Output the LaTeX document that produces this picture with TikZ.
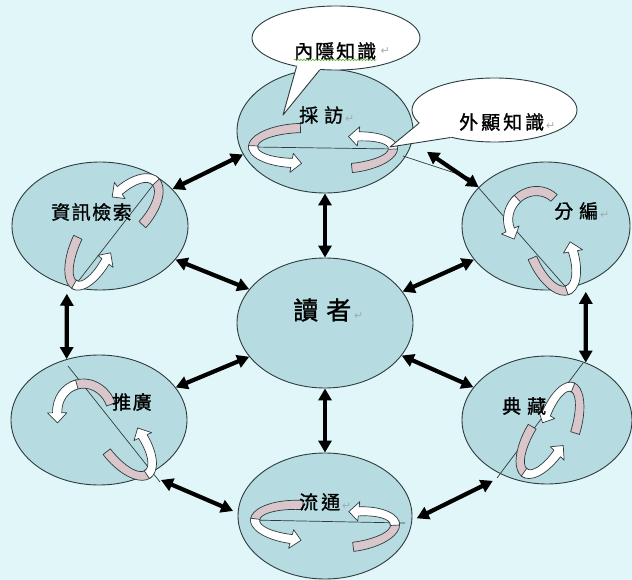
\documentclass[tikz,border=0pt]{standalone}
\usepackage{fontspec}
\newfontfamily\cjk[FakeBold=1.2]{Noto Sans CJK TC}
\newfontfamily\dejavu{DejaVu Sans}
\usetikzlibrary{arrows.meta,shapes.geometric,calc,decorations.pathmorphing}
\definecolor{bgc}{HTML}{E0F6F8}
\definecolor{ellc}{HTML}{B6DCE1}
\definecolor{pinkc}{HTML}{D8C6CB}
\definecolor{edgec}{HTML}{2F3B3D}
\definecolor{retc}{HTML}{A4ACAE}
\definecolor{wavyc}{HTML}{5FAE3A}
\newcommand{\retmark}{{\dejavu\fontsize{11}{11}\selectfont\textcolor{retc}{↵}}}
\tikzset{
  ell/.style={ellipse, draw=edgec, line width=0.9pt, fill=ellc, inner sep=0pt},
  bubble/.style={ellipse, draw=edgec, line width=0.9pt, fill=white, inner sep=0pt},
  dbl/.style={line width=4.2pt, black, {Triangle[length=12pt,width=13pt]}-{Triangle[length=12pt,width=13pt]}},
  thinline/.style={draw=edgec, line width=0.7pt},
  pinkband/.style={fill=pinkc, draw=edgec, line width=0.7pt, line join=round},
  whitearrow/.style={fill=white, draw=edgec, line width=0.7pt, line join=round},
  lbl/.style={font=\cjk\fontsize{19}{19}\selectfont, inner sep=0pt, anchor=west, text=black},
  retn/.style={font=\dejavu\fontsize{11}{11}\selectfont, inner sep=0pt, anchor=west, text=retc},
  wavy/.style={draw=wavyc, line width=0.6pt, decorate, decoration={snake, amplitude=0.8pt, segment length=3pt}}
}
\newcommand{\cycloop}[4]{%
\begin{scope}[shift={#1}, x=1pt, y=1pt, rotate=#2]
\pgfmathsetmacro{\cyL}{#3}%
\pgfmathsetmacro{\cyH}{#4}%
\pgfmathsetmacro{\cyw}{4.6}%
\pgfmathsetmacro{\cyLo}{\cyL+\cyw}%
\pgfmathsetmacro{\cyHo}{\cyH+\cyw}%
\pgfmathsetmacro{\cyLi}{\cyL-\cyw}%
\pgfmathsetmacro{\cyHi}{\cyH-\cyw}%
\pgfmathsetmacro{\cyph}{90-57.3*10/\cyL}%
\pgfmathsetmacro{\cyc}{cos(\cyph)}%
\pgfmathsetmacro{\cys}{sin(\cyph)}%
\pgfmathsetmacro{\cyPox}{-\cyL+\cyLo*\cyc}%
\pgfmathsetmacro{\cyPoy}{\cyHo*\cys}%
\pgfmathsetmacro{\cyPix}{-\cyL+\cyLi*\cyc}%
\pgfmathsetmacro{\cyPiy}{\cyHi*\cys}%
\pgfmathsetmacro{\cyAox}{\cyPox+1.1*\cyw*\cyc}%
\pgfmathsetmacro{\cyAoy}{\cyPoy+1.1*\cyw*\cys}%
\pgfmathsetmacro{\cyAix}{\cyPix-1.1*\cyw*\cyc}%
\pgfmathsetmacro{\cyAiy}{\cyPiy-1.1*\cyw*\cys}%
\pgfmathsetmacro{\cytx}{-\cyL*\cys}%
\pgfmathsetmacro{\cyty}{\cyH*\cyc}%
\pgfmathsetmacro{\cytn}{sqrt((\cytx)*(\cytx)+(\cyty)*(\cyty))}%
\pgfmathsetmacro{\cyTx}{-\cyL+\cyL*\cyc+10*(\cytx)/\cytn}%
\pgfmathsetmacro{\cyTy}{\cyH*\cys+10*(\cyty)/\cytn}%
\filldraw[pinkband] (-\cyL,-\cyHo) arc[start angle=-90,end angle=6,x radius=\cyLo pt,y radius=\cyHo pt] -- ++({-2*\cyw*cos(6)},{-2*\cyw*sin(6)}) arc[start angle=6,end angle=-90,x radius=\cyLi pt,y radius=\cyHi pt] -- cycle;
\filldraw[whitearrow] ({-\cyL+\cyLo*cos(-4)},{\cyHo*sin(-4)}) arc[start angle=-4,end angle=\cyph,x radius=\cyLo pt,y radius=\cyHo pt] -- (\cyAox,\cyAoy) -- (\cyTx,\cyTy) -- (\cyAix,\cyAiy) -- (\cyPix,\cyPiy) arc[start angle=\cyph,end angle=-4,x radius=\cyLi pt,y radius=\cyHi pt] -- cycle;
\end{scope}}
\begin{document}
\begin{tikzpicture}[x=1pt,y=-1pt]
\useasboundingbox (0,0) rectangle (632,580);
\fill[bgc] (0,0) rectangle (632,580);
% main ellipses
\node[ell, minimum width=176pt, minimum height=124pt] (cf) at (325,131) {};
\node[ell, minimum width=176pt, minimum height=128pt] (zx) at (100,226) {};
\node[ell, minimum width=168pt, minimum height=128pt] (fb) at (546,226) {};
\node[ell, minimum width=176pt, minimum height=130pt] (dz) at (325,323) {};
\node[ell, minimum width=176pt, minimum height=130pt] (tg) at (99,420) {};
\node[ell, minimum width=170pt, minimum height=128pt] (dc) at (547,420) {};
\node[ell, minimum width=174pt, minimum height=126pt] (lt) at (325,516) {};
% axis lines inside the ellipses
\draw[thinline] (253,147) -- (395,149);
\draw[thinline] (157,180) -- (73,288);
\draw[thinline] (403,156) -- (470,178) -- (570,292);
\draw[thinline] (68,366) -- (160,482);
\draw[thinline] (583,363) -- (497,478);
\draw[thinline] (250,520) -- (405,523);
% cycle loops
\cycloop{(253,147)}{181.8}{48}{17.5}
\cycloop{(393,148)}{6}{43}{15.6}
\cycloop{(155,181)}{47.5}{40.7}{20.2}
\cycloop{(75,285)}{244.6}{44.3}{17.9}
\cycloop{(516,200)}{136.5}{26.2}{27.7}
\cycloop{(568,290)}{-67}{43.5}{20.2}
\cycloop{(75,385)}{109.3}{30.2}{27.5}
\cycloop{(148,474)}{-52.6}{42.8}{19.2}
\cycloop{(572,387)}{72.4}{43}{16.8}
\cycloop{(525,473)}{238.7}{43.3}{17.9}
\cycloop{(255,520)}{177}{47}{17.5}
\cycloop{(395,524)}{7.1}{44.3}{17.5}
% double arrows
\draw[dbl] (zx.27) -- (cf.196);
\draw[dbl, shorten <=18pt] (cf.-7) -- (fb.150);
\draw[dbl] (zx.-24) -- (dz.156);
\draw[dbl] (fb.205) -- (dz.22);
\draw[dbl] (cf.south) -- (dz.north);
\draw[dbl, shorten <=8pt] (zx.-119) -- (tg.118);
\draw[dbl, shorten <=9pt] (fb.-55.5) -- (dc.56.4);
\draw[dbl] (dz.204) -- (tg.23);
\draw[dbl] (dz.-23.6) -- (dc.156);
\draw[dbl] (dz.south) -- (lt.north);
\draw[dbl, shorten <=14pt, shorten >=5pt] (tg.-48.4) -- (lt.178);
\draw[dbl, shorten <=12pt, shorten >=5pt] (dc.-128.6) -- (lt.-3);
% callouts
\node[bubble, minimum width=168pt, minimum height=64pt] (nei) at (336,38) {};
\coordinate (neitip) at (283,115);
\fill[white] (nei.216) -- (neitip) -- (nei.243) -- (nei.center) -- cycle;
\draw[edgec, line width=0.9pt, line join=round] (nei.216) -- (neitip) -- (nei.243);
\node[bubble, minimum width=165pt, minimum height=64pt] (wai) at (494.5,110) {};
\coordinate (waitip) at (390,147);
\fill[white] (wai.190) -- (waitip) -- (wai.212) -- (wai.center) -- cycle;
\draw[edgec, line width=0.9pt, line join=round] (wai.190) -- (waitip) -- (wai.212);
% labels
\node[lbl] (tnei) at (294,51) {內\hspace{2pt}隱\hspace{2pt}知\hspace{2pt}識};
\node[retn] (rnei) at ([xshift=4pt]tnei.east) {↵};
\draw[wavy] (tnei.south west) -- (tnei.south east);
\node[lbl] (tcf) at (299,115) {採\hspace{6pt}訪\hspace{2pt}\retmark};
\node[lbl] (twai) at (459,122) {外\hspace{3pt}顯\hspace{3pt}知\hspace{3pt}識\hspace{2pt}\retmark};
\node[lbl] (tzx) at (51,212) {資\hspace{1.5pt}訊\hspace{1.5pt}檢\hspace{1.5pt}索};
\node[lbl] (tfb) at (554,211) {分\hspace{6pt}編\hspace{2pt}\retmark};
\node[lbl, font=\cjk\fontsize{25}{25}\selectfont] (tdz) at (293,310) {讀\hspace{8pt}者\hspace{3pt}\retmark};
\node[lbl] (ttg) at (112,402) {推\hspace{1.5pt}廣};
\node[lbl] (tdc) at (502,406) {典\hspace{6pt}藏};
\node[lbl] (tlt) at (299,502) {流\hspace{3pt}通\hspace{2pt}\retmark};
\end{tikzpicture}
\end{document}
